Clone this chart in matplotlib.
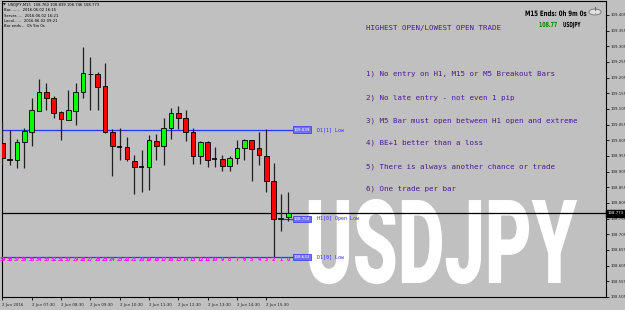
import matplotlib
matplotlib.use("Agg")
import matplotlib.pyplot as plt
from matplotlib.patches import Circle
from matplotlib.patheffects import AbstractPathEffect
from matplotlib.transforms import Affine2D

# M15 candles, oldest (06:30) to newest (16:15), 2 Jun 2016
opens = [108.998, 108.946, 108.941, 109.000, 109.033, 109.100, 109.159, 109.140, 109.095, 109.071,
         109.100, 109.159, 109.218, 109.217, 109.177, 109.030, 108.985, 108.984, 108.940, 108.920,
         108.919, 109.004, 108.986, 109.044, 109.092, 109.076, 109.031, 108.954, 109.000, 108.944,
         108.946, 108.924, 108.949, 108.981, 109.005, 108.981, 108.956, 108.876, 108.754, 108.760]
highs = [109.065, 109.039, 109.009, 109.044, 109.140, 109.200, 109.187, 109.145, 109.097, 109.166,
         109.189, 109.304, 109.272, 109.224, 109.251, 109.041, 109.044, 109.017, 108.959, 108.975,
         109.023, 109.025, 109.076, 109.109, 109.116, 109.102, 109.044, 109.004, 109.002, 108.984,
         108.959, 108.956, 109.007, 109.009, 109.007, 109.030, 109.040, 108.933, 108.835, 108.839]
lows = [108.927, 108.927, 108.917, 108.917, 108.986, 109.098, 109.102, 109.076, 109.007, 109.071,
        109.055, 109.140, 109.102, 109.102, 109.029, 108.890, 108.943, 108.938, 108.835, 108.839,
        108.848, 108.943, 108.927, 109.009, 109.041, 109.002, 108.931, 108.931, 108.920, 108.919,
        108.906, 108.906, 108.931, 108.943, 108.874, 108.927, 108.839, 108.633, 108.715, 108.746]
closes = [108.949, 108.941, 109.000, 109.036, 109.102, 109.159, 109.140, 109.092, 109.073, 109.102,
          109.159, 109.219, 109.216, 109.175, 109.033, 108.986, 108.984, 108.945, 108.919, 108.919,
          109.007, 108.986, 109.044, 109.092, 109.076, 109.030, 108.954, 109.000, 108.943, 108.943,
          108.922, 108.949, 108.981, 109.007, 108.977, 108.957, 108.876, 108.754, 108.757, 108.773]

time_ticks = [0, 4, 8, 12, 16, 20, 24, 28, 32, 36]
time_labels = ["2 Jun 2016", "2 Jun 07:30", "2 Jun 08:30", "2 Jun 09:30", "2 Jun 10:30",
               "2 Jun 11:30", "2 Jun 12:30", "2 Jun 13:30", "2 Jun 14:30", "2 Jun 15:30"]
price_ticks = [109.405, 109.355, 109.305, 109.255, 109.205, 109.155, 109.105, 109.055, 109.005,
               108.955, 108.905, 108.855, 108.805, 108.755, 108.705, 108.655, 108.605, 108.555, 108.505]

d1_prev_low = 109.039
h1_open_low = 108.754
d1_low = 108.633
bid = 108.773

rules = ["HIGHEST OPEN/LOWEST OPEN TRADE",
         "1) No entry on H1, M15 or M5 Breakout Bars",
         "2) No late entry - not even 1 pip",
         "3) M5 Bar must open between H1 open and extreme",
         "4) BE+1 better than a loss",
         "5) There is always another chance or trade",
         "6) One trade per bar"]
rule_y = [28, 74, 98, 121, 143, 166.5, 189]

info = ["USDJPY,M15  108.760 108.839 108.746 108.773",
        "Bar........  2016.06.02 16:15",
        "Server.....  2016.06.02 16:21",
        "Local......  2016.06.02 09:21",
        "Bar ends...  0h 9m 0s"]

W, H = 625, 310
BG = "#c0c0c0"


class Squeeze(AbstractPathEffect):
    # narrow the glyphs horizontally (the chart uses condensed fonts)
    def __init__(self, sx):
        super().__init__()
        self.sx = sx

    def draw_path(self, renderer, gc, tpath, affine, rgbFace=None):
        renderer.draw_path(gc, tpath, Affine2D().scale(self.sx, 1.0) + affine, rgbFace)


def fx(px):
    return px / W


def fy(py):
    return 1 - py / H


fig = plt.figure(figsize=(6.25, 3.1), dpi=100, facecolor=BG)
ax = fig.add_axes([fx(2), fy(297), fx(606) - fx(2), fy(1) - fy(297)])
ax.set_facecolor(BG)

ax.set_xlim(-0.05, 82.35)
ax.set_ylim(108.5069, 109.4496)

n = len(opens)
xs = list(range(n))

# watermark behind everything
ax.text(fx(305), fy(283), "USDJPY", transform=fig.transFigure, fontsize=84, fontweight=900,
        color="white", family=["Roboto", "Liberation Sans"], ha="left", va="baseline", zorder=1,
        path_effects=[Squeeze(0.617)])

# candles
ax.vlines(xs, lows, highs, color="#202020", lw=0.9, zorder=3)
for i in xs:
    o, c = opens[i], closes[i]
    fc = "#00ff00" if c > o else "#ff0000"
    if abs(c - o) < 0.0015:
        ax.hlines(o, i - 0.34, i + 0.34, color="black" if i != 38 else "#006400", lw=1.2, zorder=4)
    else:
        ax.bar(i, c - o, bottom=o, width=0.66, color=fc, edgecolor="black", lw=0.6, zorder=4)

# level lines
ax.hlines(d1_prev_low, -0.05, 39.6, color="#3030ff", lw=0.9, zorder=2)
ax.hlines(d1_low, -0.05, 39.6, color="#3030ff", lw=0.9, zorder=2)
ax.hlines(h1_open_low, 38.3, 39.6, color="#3030ff", lw=0.9, zorder=2)
ax.axhline(bid, color="black", lw=0.9, zorder=2)

# bar countdown numbers
for i in xs:
    ax.text(i, d1_low - 0.008, str(n - 1 - i), color="#ff00ff", fontsize=3.3, fontweight="bold",
            ha="center", va="center", zorder=5)

# level label boxes
for lvl, name in [(d1_prev_low, "D1[1] Low"), (h1_open_low, "H1[0] Open Low"), (d1_low, "D1[0] Low")]:
    ax.text(39.75, lvl, "%.3f" % lvl, fontsize=2.9, color="white", ha="left", va="center",
            bbox=dict(boxstyle="square,pad=0.3", fc="#7070f0", ec="#3030ff", lw=0.5), zorder=6)
    ax.text(42.9, lvl, name, fontsize=3.6, color="#3030ff", ha="left", va="center",
            family="DejaVu Sans Mono", zorder=6)

# axes styling
for s in ax.spines.values():
    s.set_color("black")
    s.set_linewidth(0.8)
ax.yaxis.tick_right()
ax.set_yticks(price_ticks)
ax.set_yticklabels(["%.3f" % p for p in price_ticks], fontsize=2.8, color="#202020")
ax.tick_params(axis="y", length=2, width=0.6, pad=1)
ax.set_xticks(time_ticks)
ax.set_xticklabels(time_labels, fontsize=2.9, color="#202020", ha="left")
ax.tick_params(axis="x", length=2.5, width=0.6, pad=1.5)

# current price marker on the price scale
fig.text(fx(607.5), fy(213.4), "%.3f" % bid, fontsize=2.8, color="white", ha="left", va="center",
         bbox=dict(boxstyle="square,pad=0.3", fc="black", ec="black"))

# rules text
for t, y in zip(rules, rule_y):
    fig.text(fx(366.5), fy(y), t, fontsize=5.4, color="#4b1a8c", ha="left", va="center",
             family="DejaVu Sans Mono")

# info box top-left
fig.text(fx(3), fy(5), "\u25bc", fontsize=2.5, color="black", ha="left", va="center")
for k, t in enumerate(info):
    fig.text(fx(8 if k == 0 else 4), fy(5 + k * 5.3), t, fontsize=2.7, color="black",
             ha="left", va="center")

# countdown panel top-right
fig.text(fx(525), fy(14), "M15 Ends: 0h 9m 0s", fontsize=5.3, fontweight="bold", color="black",
         ha="left", va="center", path_effects=[Squeeze(0.74)])
fig.text(fx(539), fy(25), "108.77", fontsize=5.0, fontweight="bold", color="#008000",
         ha="left", va="center", path_effects=[Squeeze(0.68)])
fig.text(fx(563), fy(25), "USDJPY", fontsize=5.0, fontweight="bold", color="black",
         ha="left", va="center", path_effects=[Squeeze(0.6)])
circ = Circle((fx(595), fy(12)), 6.0 / W, transform=fig.transFigure, fc="#e0e0e0",
              ec="#707070", lw=0.6)
fig.patches.append(circ)
fig.text(fx(595), fy(12), "!", fontsize=6, color="#505050", ha="center", va="center")

fig.savefig("out.png", dpi=100, facecolor=BG)
